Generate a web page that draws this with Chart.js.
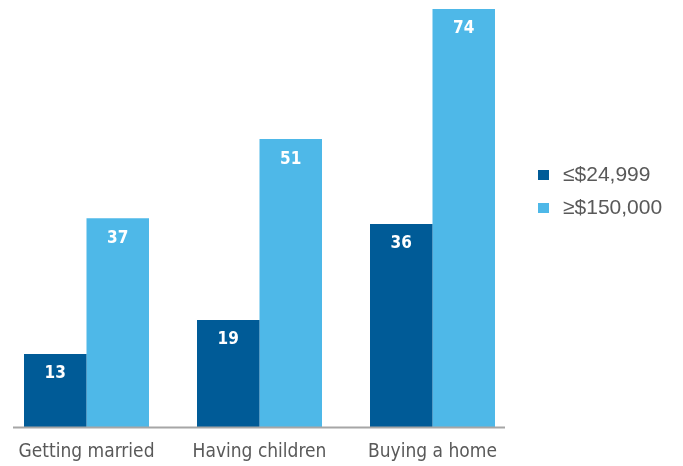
<!DOCTYPE html>
<html>
<head>
<meta charset="utf-8">
<script src="https://cdn.jsdelivr.net/npm/chart.js@4.4.1/dist/chart.umd.min.js"></script>
<style>
  html, body { margin: 0; padding: 0; background: #fff; }
  #wrap { width: 683px; height: 466px; }
</style>
</head>
<body>
<div id="wrap"><canvas id="chart"></canvas></div>
<script>
// dati
const categories = ['Getting married', 'Having children', 'Buying a home'];
const seriesNames = ['\u2264$24,999', '\u2265$150,000'];
const lowIncome = [13, 19, 36];
const highIncome = [37, 51, 74];

const darkBlue = '#005b97';
const lightBlue = '#4eb8e8';
const narrowFont = '"Liberation Sans Narrow", "DejaVu Sans Condensed", "Roboto", sans-serif';

// etichette bianche dentro le barre
const valueLabels = {
  id: 'valueLabels',
  afterDatasetsDraw(chart) {
    const ctx = chart.ctx;
    ctx.save();
    ctx.fillStyle = '#ffffff';
    ctx.font = 'bold 17px ' + narrowFont;
    ctx.textAlign = 'center';
    ctx.textBaseline = 'middle';
    chart.data.datasets.forEach((ds, i) => {
      chart.getDatasetMeta(i).data.forEach((bar, j) => {
        ctx.fillText(ds.data[j], bar.x, bar.y + 20);
      });
    });
    ctx.restore();
  }
};

// linea dell'asse orizzontale (più corta dell'area del grafico)
const baseLine = {
  id: 'baseLine',
  afterDatasetsDraw(chart) {
    const ctx = chart.ctx;
    const y = chart.scales.y.getPixelForValue(0);
    ctx.save();
    ctx.strokeStyle = '#a6a6a6';
    ctx.lineWidth = 2;
    ctx.beginPath();
    ctx.moveTo(13, y);
    ctx.lineTo(505, y);
    ctx.stroke();
    ctx.restore();
  }
};

// legenda a destra
const sideLegend = {
  id: 'sideLegend',
  afterDraw(chart) {
    const ctx = chart.ctx;
    ctx.save();
    ctx.font = '21px "Liberation Sans", Arial, sans-serif';
    ctx.textBaseline = 'middle';
    ctx.textAlign = 'left';
    chart.data.datasets.forEach((ds, i) => {
      const cy = 175 + i * 33;
      ctx.fillStyle = ds.backgroundColor;
      ctx.fillRect(538, cy - 5, 11, 10);
      ctx.fillStyle = '#595959';
      ctx.fillText(ds.label, 563, cy);
    });
    ctx.restore();
  }
};

new Chart(document.getElementById('chart'), {
  type: 'bar',
  data: {
    labels: categories,
    datasets: [
      { label: seriesNames[0], data: lowIncome, backgroundColor: darkBlue },
      { label: seriesNames[1], data: highIncome, backgroundColor: lightBlue }
    ]
  },
  options: {
    responsive: true,
    maintainAspectRatio: false,
    animation: false,
    layout: { padding: { left: 0, right: 164, top: 0, bottom: 0 } },
    datasets: {
      bar: { categoryPercentage: 0.7225, barPercentage: 1 }
    },
    plugins: {
      legend: { display: false },
      tooltip: { enabled: false }
    },
    scales: {
      x: {
        grid: { display: false, drawTicks: false },
        border: { display: false },
        afterFit(scale) { scale.height = 38.5; },
        ticks: {
          color: '#595959',
          padding: 13,
          font: { family: narrowFont, size: 19 }
        }
      },
      y: {
        display: false,
        min: 0,
        max: 75.6
      }
    }
  },
  plugins: [valueLabels, baseLine, sideLegend]
});
</script>
</body>
</html>
